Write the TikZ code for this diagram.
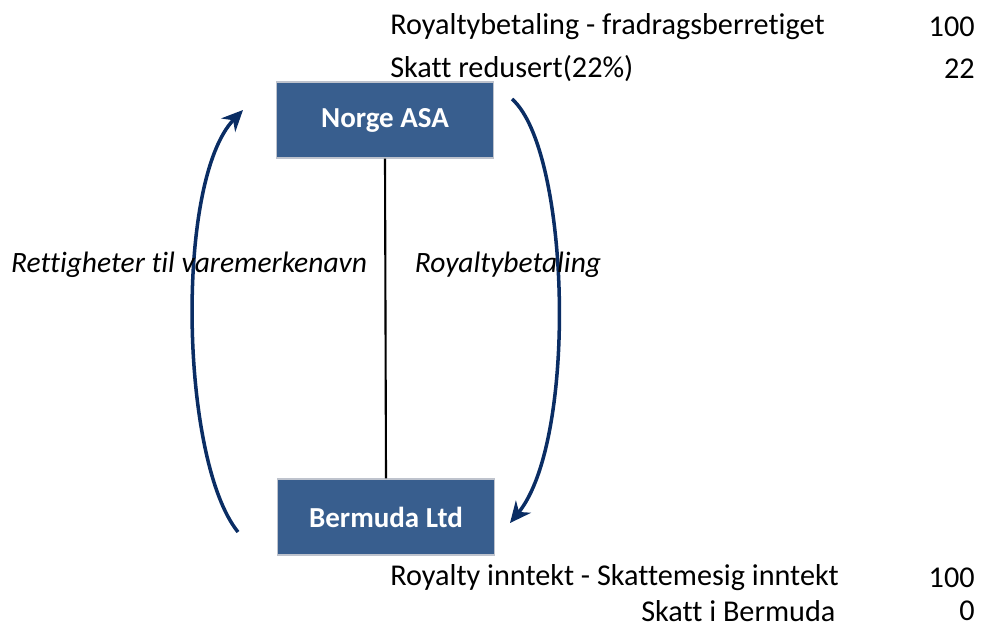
\documentclass[tikz,border=0pt]{standalone}
\usepackage{fontspec}
\setmainfont{Carlito}[Ligatures=NoCommon]
\usetikzlibrary{arrows.meta}

\definecolor{boxblue}{RGB}{56,94,142}
\definecolor{boxedge}{RGB}{190,195,205}
\definecolor{arrownavy}{RGB}{10,45,100}

\begin{document}
\begin{tikzpicture}[
    x=0.02cm, y=-0.02cm,
    font=\fontsize{17.2}{20}\selectfont,
    entity/.style={draw=boxedge, line width=0.8pt, fill=boxblue, text=white,
        font=\fontsize{16.5}{20}\selectfont\bfseries,
        minimum width=4.34cm, minimum height=1.52cm, inner sep=0pt},
    flow/.style={draw=arrownavy, line width=2pt,
        -{Stealth[length=12pt, width=11pt]}},
    label/.style={font=\fontsize{16.8}{20}\selectfont\itshape, inner sep=0pt},
    info/.style={anchor=west, inner sep=0pt},
    amount/.style={anchor=east, inner sep=0pt}
]

\useasboundingbox (0,0) rectangle (981,630);

% the two companies
\node[entity] (norge) at (385,120) {Norge ASA};
\node[entity] (bermuda) at (386,517) {Bermuda Ltd};

\draw[line width=1.2pt] (norge.south) -- (bermuda.north);

% curved flows
\coordinate (lstart) at (238,532);
\coordinate (lend) at (243,110);
\coordinate (rstart) at (512,99);
\coordinate (rend) at (510,523);

\draw[flow] (lstart) .. controls (180,460) and (175,180) .. (lend);
\draw[flow] (rstart) .. controls (570,150) and (578,440) .. (rend);

\node[label] (rights) at (189,265) {Rettigheter til varemerkenavn};
\node[label] (royalty) at (508,265) {Royaltybetaling};

% tax notes
\node[info] (deduct) at (390,27) {Royaltybetaling - fradragsberretiget};
\node[amount] at (975,27) {100};
\node[info] (reduced) at (390,69) {Skatt redusert(22\%)};
\node[amount] at (975,69) {22};

\node[info] (income) at (390,578) {Royalty inntekt - Skattemesig inntekt};
\node[amount] at (975,578) {100};
\node[info] (bermudatax) at (641,611) {Skatt i Bermuda};
\node[amount] at (975,611) {0};

\end{tikzpicture}
\end{document}
